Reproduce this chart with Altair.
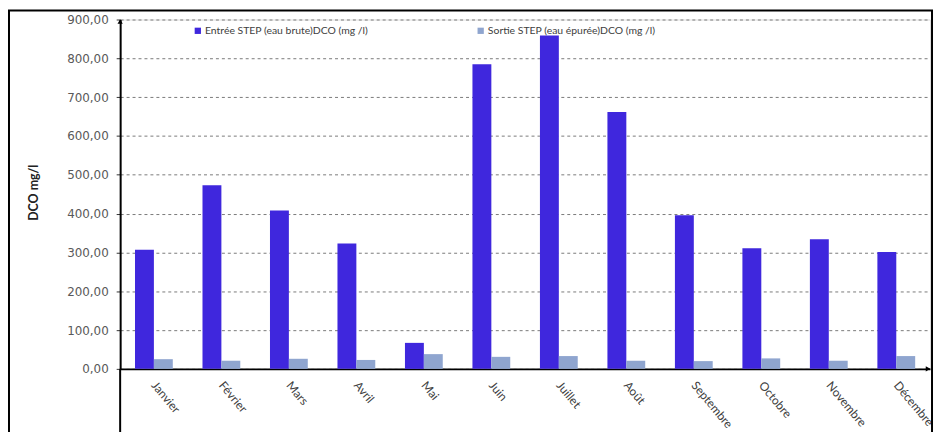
import altair as alt
import pandas as pd

months = ["Janvier", "Février", "Mars", "Avril", "Mai", "Juin", "Juillet",
          "Août", "Septembre", "Octobre", "Novembre", "Décembre"]
entree = [307, 473, 408, 323, 67, 785, 859, 662, 396, 311, 334, 301]
sortie = [25, 21, 26, 23, 38, 31, 33, 21, 20, 27, 21, 33]
series = ["Entrée STEP (eau brute)DCO (mg /l)", "Sortie STEP (eau épurée)DCO (mg /l)"]
colors = ["#3F27DD", "#8FA5CF"]
y_ticks = [0, 100, 200, 300, 400, 500, 600, 700, 800, 900]

rows = []
for m, a, b in zip(months, entree, sortie):
    rows.append({"mois": m, "serie": series[0], "valeur": a})
    rows.append({"mois": m, "serie": series[1], "valeur": b})
df = pd.DataFrame(rows)

W, H = 816, 352

bars = alt.Chart(df).mark_bar().encode(
    x=alt.X("mois:N", sort=months, title=None,
            scale=alt.Scale(paddingInner=0.44, paddingOuter=0.22),
            axis=alt.Axis(labelAngle=50, labelAlign="left", labelBaseline="middle",
                          labelFont="Lato", labelFontSize=12, labelColor="#404040",
                          labelPadding=14, ticks=False, domainColor="black",
                          domainWidth=2, labelOverlap=False, labelLimit=300)),
    xOffset=alt.XOffset("serie:N", sort=series,
                        scale=alt.Scale(paddingInner=0, paddingOuter=0)),
    y=alt.Y("valeur:Q", scale=alt.Scale(domain=[0, 900], nice=False),
            axis=alt.Axis(values=y_ticks, title="DCO mg/l",
                          labelExpr="replace(format(datum.value, '.2f'), '.', ',')",
                          labelFont="DejaVu Sans", labelFontSize=12,
                          labelColor="#595959", labelPadding=8,
                          tickSize=4, tickColor="#333333", tickWidth=1,
                          domainColor="black", domainWidth=2,
                          grid=True, gridDash=[3, 3], gridColor="#7a7a7a",
                          gridWidth=1,
                          titleFont="Lato", titleFontSize=12.5,
                          titleFontWeight="bold", titleColor="#222222",
                          titleAngle=-90, titleX=-87, titleY=174,
                          titleAlign="center", titleBaseline="middle")),
    color=alt.Color("serie:N", sort=series,
                    scale=alt.Scale(domain=series, range=colors),
                    legend=alt.Legend(title=None, orient="none", legendX=73,
                                      legendY=6, direction="horizontal",
                                      symbolType="square", symbolSize=40,
                                      symbolStrokeWidth=0, labelLimit=400,
                                      labelFont="Lato", labelFontSize=10.5,
                                      labelColor="#404040", columnPadding=108,
                                      labelOffset=2)),
)

axis_ext = alt.Chart(pd.DataFrame({"a": [0]})).mark_rule(
    color="black", strokeWidth=2).encode(
    x=alt.value(0), y=alt.value(H), y2=alt.value(H + 80))

arrow_up = alt.Chart(pd.DataFrame({"a": [0]})).mark_point(
    shape="triangle-up", filled=True, color="black", size=28, opacity=1).encode(
    x=alt.value(0), y=alt.value(2))

arrow_right = alt.Chart(pd.DataFrame({"a": [0]})).mark_point(
    shape="triangle-right", filled=True, color="black", size=28, opacity=1).encode(
    x=alt.value(W - 2), y=alt.value(H))

frame = alt.Chart(pd.DataFrame({"a": [0]})).mark_rect(
    fill=None, stroke="black", strokeWidth=2).encode(
    x=alt.value(-112), x2=alt.value(818), y=alt.value(-9), y2=alt.value(H + 90))

chart = alt.layer(bars, axis_ext, arrow_up, arrow_right, frame).properties(
    width=W, height=H,
    autosize=alt.AutoSizeParams(type="none"),
    padding={"left": 113, "top": 10, "right": 4, "bottom": 62},
).configure_view(stroke=None).configure(background="white")

chart.save("out.html", embed_options={"renderer": "svg", "actions": False})
